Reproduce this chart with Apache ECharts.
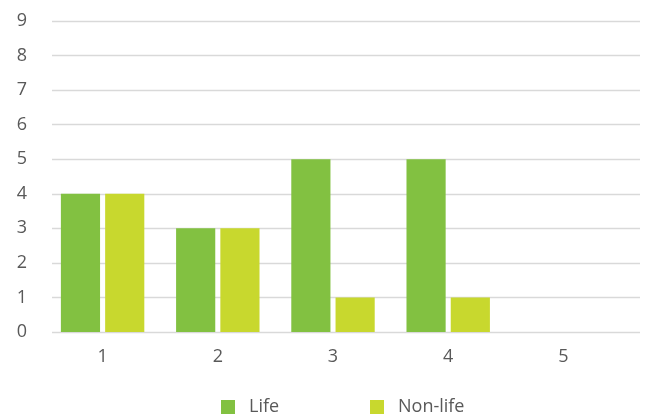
<!DOCTYPE html>
<html>
<head>
<meta charset="utf-8">
<script src="https://cdn.jsdelivr.net/npm/echarts@6/dist/echarts.min.js"></script>
<style>
  html, body { margin: 0; padding: 0; background: #fff; }
  #main { width: 645px; height: 416px; }
</style>
</head>
<body>
<div id="main"></div>
<script>
// data
var categories = ['1', '2', '3', '4', '5'];
var lifeValues = [4, 3, 5, 5, 0];
var nonLifeValues = [4, 3, 1, 1, 0];
var yTicks = [0, 9, 1]; // min, max, interval

var textColor = '#595959';
var gridColor = '#d9d9d9';

var chart = echarts.init(document.getElementById('main'));
var legendBase = {
    top: 398,
    padding: 0,
    icon: 'rect',
    itemWidth: 14,
    itemHeight: 14,
    textStyle: { color: textColor, fontSize: 18, padding: [0, 0, 0, 9] }
};
var option = {
    animation: false,
    textStyle: { fontFamily: 'Open Sans' },
    color: ['#82c141', '#c8d82e'],
    grid: [
        // gridlines + y labels (wider, like the original)
        { left: 52, right: 5, top: 21, bottom: 84 },
        // bars
        { left: 45, right: 24, top: 21, bottom: 84 }
    ],
    legend: [
        Object.assign({ data: ['Life'], left: 221 }, legendBase),
        Object.assign({ data: ['Non-life'], left: 370 }, legendBase)
    ],
    xAxis: [{
        gridIndex: 0,
        type: 'value',
        show: false
    }, {
        gridIndex: 1,
        type: 'category',
        data: categories,
        axisLine: { show: false },
        axisTick: { show: false },
        axisLabel: { color: textColor, fontSize: 18, margin: 16 }
    }],
    yAxis: [{
        gridIndex: 0,
        type: 'value',
        min: yTicks[0],
        max: yTicks[1],
        interval: yTicks[2],
        axisLine: { show: false },
        axisTick: { show: false },
        axisLabel: { color: textColor, fontSize: 18, margin: 25 },
        splitLine: { lineStyle: { color: gridColor, width: 1.3 } }
    }, {
        gridIndex: 1,
        type: 'value',
        min: yTicks[0],
        max: yTicks[1],
        interval: yTicks[2],
        show: false,
        splitLine: { show: false }
    }],
    series: [{
        name: 'Life',
        type: 'bar',
        xAxisIndex: 1,
        yAxisIndex: 1,
        data: lifeValues,
        barWidth: '34%',
        barGap: '13%'
    }, {
        name: 'Non-life',
        type: 'bar',
        xAxisIndex: 1,
        yAxisIndex: 1,
        data: nonLifeValues,
        barWidth: '34%',
        barGap: '13%'
    }]
};
chart.setOption(option);
</script>
</body>
</html>
